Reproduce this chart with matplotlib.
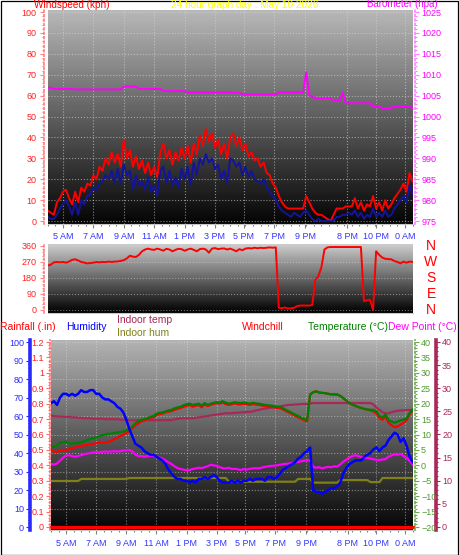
#!/usr/bin/env python3

import numpy as np
import matplotlib
matplotlib.use('Agg')
from matplotlib import pyplot as plt
from matplotlib.ticker import MultipleLocator
from matplotlib.transforms import blended_transform_factory
from matplotlib.patches import Rectangle

matplotlib.rcParams['font.family'] = ['Liberation Sans', 'DejaVu Sans']

W, H = 459, 555

# 12 minute samples over the 24 hour window
hours = np.arange(121) * 0.2
tick_hours = [1, 3, 5, 7, 9, 11, 12.9, 14.9, 16.95, 19.7, 21.6, 23.5]
tick_labels = ['5 AM', '7 AM', '9 AM', '11 AM', '1 PM', '3 PM',
               '5 PM', '7 PM', '9 PM', '8 PM', '10 PM', '0 AM']

wind_gust = [5, 4, 3, 9, 11, 14, 15, 11, 8, 14,
             9, 16, 14, 18, 17, 22, 20, 26, 24, 30,
             27, 33, 28, 32, 26, 39, 30, 34, 26, 31,
             25, 29, 23, 28, 22, 26, 21, 33, 37, 30,
             34, 27, 33, 29, 35, 30, 36, 28, 37, 32,
             41, 36, 44, 38, 42, 35, 39, 32, 37, 30,
             40, 42, 36, 40, 34, 37, 31, 33, 29, 30,
             26, 28, 23, 22, 18, 16, 12, 9, 7, 6,
             6, 6, 6, 6, 6, 12, 9, 6, 4, 3,
             3, 2, 1, 0, 3, 6, 6, 6, 7, 7,
             7, 11, 6, 9, 5, 8, 7, 12, 6, 9,
             5, 10, 6, 8, 11, 13, 15, 18, 14, 23,
             19]

wind_avg = [2, 1, 1, 3, 6, 8, 10, 7, 3, 9,
            3, 10, 8, 12, 13, 16, 15, 18, 19, 22,
            20, 24, 18, 25, 18, 27, 22, 24, 15, 22,
            17, 19, 15, 21, 14, 17, 12, 24, 26, 18,
            24, 17, 21, 16, 25, 20, 26, 17, 28, 22,
            30, 27, 32, 28, 30, 25, 27, 20, 24, 18,
            30, 29, 26, 28, 22, 26, 21, 24, 20, 19,
            18, 20, 16, 14, 12, 10, 7, 5, 4, 3,
            2, 4, 3, 2, 4, 5, 3, 1, 0, 1,
            0, 0, 0, 0, 0, 2, 2, 3, 3, 4,
            3, 5, 2, 4, 1, 3, 2, 6, 2, 4,
            2, 5, 2, 3, 6, 8, 10, 12, 9, 17,
            13]

barometer = [1007.0, 1006.8, 1006.6, 1006.6, 1006.6, 1006.6, 1006.6, 1006.6, 1006.6, 1006.5,
             1006.5, 1006.5, 1006.5, 1006.5, 1006.5, 1006.5, 1006.5, 1006.5, 1006.5, 1006.5,
             1006.5, 1006.5, 1006.5, 1006.5, 1006.5, 1007.2, 1007.2, 1007.2, 1007.2, 1007.2,
             1006.6, 1006.6, 1006.6, 1006.6, 1006.6, 1006.6, 1006.6, 1006.6, 1006.1, 1006.1,
             1006.1, 1006.1, 1006.1, 1006.1, 1006.1, 1006.1, 1005.8, 1005.8, 1005.8, 1005.8,
             1005.8, 1005.8, 1005.8, 1005.8, 1005.8, 1005.8, 1005.8, 1005.8, 1005.8, 1005.8,
             1005.8, 1005.7, 1005.7, 1005.7, 1005.3, 1005.3, 1005.3, 1005.3, 1005.3, 1005.3,
             1005.3, 1005.3, 1005.3, 1005.3, 1005.3, 1005.3, 1005.8, 1005.8, 1005.8, 1005.8,
             1005.8, 1005.8, 1005.8, 1005.8, 1005.8, 1010.6, 1005.2, 1004.8, 1004.5, 1004.3,
             1004.3, 1004.3, 1004.3, 1004.3, 1003.9, 1003.9, 1003.9, 1005.8, 1003.2, 1003.2,
             1003.2, 1003.2, 1003.2, 1003.2, 1003.2, 1003.2, 1003.2, 1002.5, 1002.5, 1002.5,
             1002.0, 1002.0, 1002.0, 1002.0, 1002.5, 1002.5, 1002.5, 1002.5, 1002.5, 1002.5,
             1002.0]

wind_dir = [250, 255, 268, 270, 268, 270, 266, 272, 282, 285,
            278, 270, 266, 262, 264, 266, 270, 268, 270, 269,
            272, 270, 272, 273, 276, 280, 290, 305, 300, 298,
            310, 330, 340, 345, 340, 338, 345, 340, 333, 344,
            340, 330, 338, 344, 342, 333, 340, 345, 338, 330,
            342, 345, 340, 322, 345, 348, 342, 345, 346, 340,
            345, 338, 330, 342, 336, 345, 348, 346, 350, 347,
            350, 348, 350, 352, 350, 352, 12, 10, 14, 8,
            10, 12, 22, 25, 25, 25, 25, 28, 170, 190,
            240, 340, 352, 354, 354, 354, 354, 354, 354, 354,
            354, 354, 354, 354, 50, 55, 58, 0, 330, 310,
            295, 288, 286, 285, 275, 270, 262, 272, 266, 272,
            270]

humidity = [67, 68, 66, 70, 72, 72, 71, 72, 71, 72,
            74, 73, 73, 74, 74, 72, 72, 70, 69, 69,
            68, 67, 65, 64, 62, 58, 53, 49, 45, 44,
            43, 41, 40, 39, 39, 38, 37, 36, 34, 31,
            29, 27, 26, 26, 25, 25, 24, 25, 24, 26,
            26, 27, 26, 27, 28, 27, 25, 24, 24, 24,
            25, 24, 25, 24, 25, 25, 26, 25, 26, 26,
            26, 25, 27, 27, 26, 27, 29, 31, 32, 33,
            34, 35, 37, 38, 40, 41, 43, 20, 19, 19,
            18, 19, 20, 21, 21, 22, 24, 29, 32, 34,
            35, 36, 36, 36, 38, 39, 40, 42, 43, 41,
            43, 44, 47, 49, 51, 50, 46, 48, 44, 38,
            35]

temperature = [6.0, 6.0, 6.5, 7.3, 7.5, 7.6, 7.2, 7.0, 7.3, 7.2,
               7.5, 7.8, 8.2, 8.5, 8.8, 9.0, 9.3, 9.8, 10.0, 10.2,
               10.3, 10.5, 10.6, 10.8, 11.0, 11.3, 11.8, 12.5, 13.7, 14.3,
               14.8, 15.0, 15.3, 15.7, 16.0, 16.8, 17.0, 17.2, 17.5, 17.8,
               18.0, 18.5, 18.8, 19.0, 19.5, 19.8, 20.0, 19.6, 19.8, 20.0,
               19.4, 20.2, 19.6, 20.0, 20.3, 20.5, 20.4, 20.8, 20.3, 20.0,
               20.2, 20.5, 20.3, 20.2, 20.4, 20.2, 20.0, 20.3, 20.1, 20.0,
               19.8, 19.6, 19.5, 19.4, 19.2, 19.0, 19.0, 18.5, 18.0, 17.5,
               17.0, 16.5, 16.0, 15.5, 15.0, 14.7, 23.0, 23.7, 24.0, 23.6,
               23.5, 23.4, 23.2, 23.0, 23.0, 23.0, 22.5, 21.8, 21.0, 20.2,
               19.7, 19.3, 18.9, 18.6, 18.3, 18.1, 18.0, 18.0, 17.5, 16.0,
               15.5, 16.5, 14.7, 14.2, 13.8, 14.2, 14.6, 14.8, 15.3, 17.0,
               18.0]

windchill = [5.0, 4.5, 4.3, 5.0, 4.8, 5.0, 5.2, 5.6, 5.8, 6.0,
             6.3, 6.5, 6.6, 6.8, 7.0, 7.2, 7.3, 7.3, 7.4, 7.6,
             8.0, 8.5, 9.0, 9.5, 10.0, 10.5, 11.2, 12.0, 13.0, 13.6,
             14.2, 14.6, 15.0, 15.3, 15.6, 16.3, 16.6, 16.8, 17.2, 17.4,
             17.6, 18.0, 18.3, 18.6, 19.0, 19.3, 19.6, 19.0, 19.3, 19.6,
             18.8, 19.8, 19.2, 19.6, 19.9, 20.2, 20.0, 20.4, 19.8, 19.6,
             19.8, 20.1, 19.8, 19.8, 20.0, 19.8, 19.6, 19.9, 19.7, 19.6,
             19.4, 19.2, 19.1, 19.0, 18.8, 18.6, 18.6, 18.1, 17.6, 17.1,
             16.6, 16.1, 15.6, 15.1, 14.6, 14.3, 23.0, 23.7, 24.0, 23.6,
             23.5, 23.4, 23.2, 23.0, 23.0, 23.0, 22.5, 21.8, 21.0, 20.2,
             19.7, 19.3, 18.9, 18.6, 18.3, 18.1, 17.8, 17.5, 16.8, 15.3,
             14.8, 15.8, 13.8, 13.0, 12.4, 12.6, 13.2, 13.8, 14.6, 16.6,
             17.8]

dew_point = [0.5, 0.2, 0.6, 1.5, 2.5, 3.2, 3.3, 3.0, 2.8, 3.0,
             3.3, 3.6, 3.8, 4.0, 4.2, 4.3, 4.2, 4.4, 4.5, 4.4,
             4.5, 4.6, 4.5, 4.6, 4.8, 4.8, 5.0, 4.5, 3.5, 3.0,
             3.0, 2.8, 3.0, 3.1, 3.0, 2.8, 2.5, 2.2, 1.6, 1.0,
             0.4, -0.3, -0.9, -1.2, -1.4, -1.6, -1.5, -1.2, -1.0, -0.8,
             -0.9, -0.6, -0.3, 0.2, 0.0, -0.2, -0.6, -0.9, -1.0, -0.8,
             -1.2, -1.1, -1.3, -1.5, -1.2, -1.4, -1.1, -1.0, -0.9, -1.0,
             -0.7, -0.5, -0.3, -0.2, -0.1, 0.0, 0.2, 0.4, 0.5, 0.6,
             0.8, 0.9, 1.1, 1.3, 1.5, 1.7, 1.6, -0.5, -0.8, -0.6,
             -1.0, -0.7, -0.5, -0.6, -0.3, -0.4, 0.3, 1.2, 1.8, 2.5,
             3.0, 3.3, 3.0, 2.7, 2.5, 2.4, 2.2, 2.0, 1.8, 1.7,
             1.9, 2.0, 2.8, 3.2, 3.6, 3.4, 3.7, 3.0, 2.4, 1.5,
             0.3]

indoor_temp = [24.0, 24.0, 23.9, 23.9, 23.8, 23.8, 23.8, 23.7, 23.7, 23.6,
               23.6, 23.5, 23.5, 23.5, 23.4, 23.4, 23.4, 23.4, 23.3, 23.3,
               23.3, 23.3, 23.3, 23.2, 23.2, 23.2, 23.1, 23.1, 23.1, 23.1,
               23.1, 23.1, 23.1, 23.1, 23.1, 23.1, 23.1, 23.1, 23.1, 23.1,
               23.1, 23.3, 23.4, 23.5, 23.5, 23.5, 23.5, 23.5, 23.6, 23.7,
               23.8, 23.9, 24.0, 24.1, 24.2, 24.3, 24.4, 24.5, 24.6, 24.6,
               24.6, 24.7, 24.7, 24.8, 24.8, 24.9, 24.9, 25.0, 25.2, 25.3,
               25.5, 25.6, 25.7, 25.8, 25.9, 26.0, 26.0, 26.2, 26.3, 26.4,
               26.4, 26.5, 26.5, 26.6, 26.6, 26.6, 26.7, 26.8, 26.8, 26.8,
               26.8, 26.8, 26.8, 26.8, 26.8, 26.8, 26.8, 26.8, 26.8, 26.8,
               26.8, 26.8, 26.8, 26.8, 26.8, 26.8, 26.8, 26.5, 25.8, 25.3,
               24.8, 24.6, 24.6, 24.8, 25.0, 25.1, 25.2, 25.2, 25.3, 25.3,
               25.3]

indoor_hum = [24.9, 24.9, 24.9, 24.9, 24.9, 24.9, 24.9, 24.9, 24.9, 24.9,
              26.0, 26.0, 26.0, 26.0, 26.0, 26.0, 26.0, 26.0, 26.0, 26.0,
              26.0, 26.0, 26.0, 26.0, 26.0, 26.0, 26.5, 26.5, 26.5, 26.5,
              26.5, 26.5, 26.5, 26.5, 26.5, 26.5, 26.5, 26.5, 26.5, 26.5,
              26.5, 26.5, 26.5, 26.5, 26.5, 26.5, 26.5, 26.5, 26.5, 26.5,
              26.5, 26.5, 26.5, 26.5, 26.5, 26.5, 26.5, 26.5, 26.5, 24.5,
              24.5, 24.5, 24.5, 24.5, 24.5, 24.5, 24.5, 24.5, 24.5, 24.5,
              24.5, 24.5, 24.5, 24.5, 24.5, 24.5, 24.5, 24.5, 24.5, 24.5,
              24.5, 24.5, 26.0, 26.0, 26.0, 26.0, 26.0, 24.0, 24.0, 24.0,
              24.0, 24.0, 24.0, 24.0, 24.0, 24.0, 25.4, 25.4, 25.4, 25.4,
              25.4, 25.4, 25.4, 25.4, 25.4, 25.4, 24.3, 24.3, 24.3, 24.3,
              26.5, 26.5, 26.5, 26.5, 26.5, 26.5, 26.5, 26.5, 26.5, 26.5,
              26.5]

rainfall = [0.0] * len(hours)

compass_deg = [360, 270, 180, 90, 0]
compass_lbl = ['N', 'W', 'S', 'E', 'N']


def px_box(x0, y0, x1, y1):
    return [x0 / W, 1 - y1 / H, (x1 - x0) / W, (y1 - y0) / H]


def pt(px):
    return px * 0.72


def backdrop(ax, top, bottom):
    shade = np.linspace(bottom, top, 100).reshape(-1, 1)
    ax.imshow(shade, cmap='gray', vmin=0, vmax=1, origin='lower', aspect='auto',
              extent=[0, 1, 0, 1], transform=ax.transAxes, zorder=0,
              interpolation='bilinear')


def keep_spine(ax, side):
    for name, sp in ax.spines.items():
        sp.set_visible(name == side)


def style_y(ax, side, lbl_color, tick_color, major, minor, offset, ls, lw, pad):
    keep_spine(ax, side)
    sp = ax.spines[side]
    sp.set_position(('outward', pt(offset)))
    sp.set_color(tick_color)
    sp.set_linestyle(ls)
    sp.set_linewidth(lw)
    ax.yaxis.set_major_locator(MultipleLocator(major))
    ax.yaxis.set_minor_locator(MultipleLocator(minor))
    ax.tick_params(axis='y', which='both', colors=tick_color, labelcolor=lbl_color,
                   labelsize=6.5, direction='out', pad=pt(pad), width=0.8)
    ax.tick_params(axis='y', which='major', length=pt(4))
    ax.tick_params(axis='y', which='minor', length=pt(2))


def style_x(ax, pad):
    ax.set_xticks(tick_hours)
    ax.set_xticklabels(tick_labels)
    ax.xaxis.set_minor_locator(MultipleLocator(0.5))
    ax.tick_params(axis='x', which='both', colors='#808080', labelcolor='#3535ff',
                   labelsize=6.5, direction='out', pad=pt(pad), width=0.8)
    ax.tick_params(axis='x', which='major', length=pt(4))
    ax.tick_params(axis='x', which='minor', length=pt(2))


fig = plt.figure(figsize=(W / 100, H / 100), dpi=100)
fig.patch.set_facecolor('white')

# ---- wind speed / barometer ----
ax1 = fig.add_axes(px_box(47.8, 10, 412.6, 224))
backdrop(ax1, 0.72, 0.02)
ax1.plot(hours, wind_gust, color='#ff0000', lw=1.4, zorder=3)
ax1.plot(hours, wind_avg, color='#14149a', lw=1.4, zorder=4)
ax1.set_xlim(0, 24)
ax1.set_ylim(-1.4, 101)
style_y(ax1, 'left', '#ff2020', '#ff8080', 10, 2, 4, ':', 1.2, 3)
ax1.spines['bottom'].set_visible(True)
ax1.spines['bottom'].set_color('#c8c8c8')
style_x(ax1, 4)
ax1.grid(color='#d8d8d8', ls=':', lw=0.8, alpha=0.6)

ax1b = ax1.twinx()
ax1b.plot(hours, barometer, color='#ff00ff', lw=1.4, zorder=5)
ax1b.set_ylim(974.3, 1025.5)
style_y(ax1b, 'right', '#ff00ff', '#ff80ff', 5, 1, 2, ':', 1.2, 3)

# ---- wind direction ----
ax2 = fig.add_axes(px_box(47.8, 244, 412.6, 313))
backdrop(ax2, 0.80, 0.0)
ax2.plot(hours, wind_dir, color='#ff0000', lw=1.4, zorder=3)
ax2.set_xlim(0, 24)
ax2.set_ylim(-17, 371)
style_y(ax2, 'left', '#ff2020', '#ff8080', 90, 18, 4, ':', 1.2, 3)
ax2.spines['bottom'].set_visible(True)
ax2.spines['bottom'].set_color('#c8c8c8')
ax2.set_xticks([])
ax2.grid(axis='y', color='#d8d8d8', ls=':', lw=0.8, alpha=0.5)
trans = blended_transform_factory(ax2.transAxes, ax2.transData)
for deg, lbl in zip(compass_deg, compass_lbl):
    ax2.text(1.0 + (431 - 412.6) / 364.8, deg, lbl, transform=trans, color='#ff0000',
             fontsize=10, ha='center', va='center', clip_on=False)

# ---- humidity / temperatures ----
ax3 = fig.add_axes(px_box(51, 340, 412.6, 530))
backdrop(ax3, 0.70, 0.02)
ax3.plot(hours, indoor_hum, color='#808018', lw=1.6, zorder=3)
ax3.set_xlim(0, 24)
ax3.set_ylim(-1.6, 101.1)
style_y(ax3, 'left', '#2a2aff', '#2a2aff', 10, 2, 21, '-', 2.6, 2)
ax3.spines['bottom'].set_visible(True)
ax3.spines['bottom'].set_color('#c8c8c8')
style_x(ax3, 5)
ax3.grid(color='#d8d8d8', ls=':', lw=0.8, alpha=0.55)

ax3i = ax3.twinx()
ax3i.plot(hours, indoor_temp, color='#a82858', lw=1.6)
ax3i.set_ylim(-0.65, 40.43)
style_y(ax3i, 'right', '#a82858', '#a82858', 5, 1, 23.5, '-', 2.6, 2)

ax3r = ax3.twinx()
ax3r.yaxis.tick_left()
ax3r.plot(hours, rainfall, color='#ff0000', lw=2.4, clip_on=False)
ax3r.set_ylim(-0.0195, 1.213)
style_y(ax3r, 'left', '#ff2020', '#ff7070', 0.1, 0.02, 1, ':', 1.2, 2)
ax3r.set_yticks([0, 0.1, 0.2, 0.3, 0.4, 0.5, 0.6, 0.7, 0.8, 0.9, 1, 1.1, 1.2])
ax3r.set_yticklabels(['0', '0.1', '0.2', '0.3', '0.4', '0.5', '0.6', '0.7', '0.8',
                      '0.9', '1', '1.1', '1.2'])

ax3t = ax3.twinx()
ax3t.plot(hours, dew_point, color='#ff00ff', lw=1.6)
ax3t.plot(hours, windchill, color='#ff0000', lw=1.6)
ax3t.plot(hours, temperature, color='#008000', lw=1.6)
ax3t.set_ylim(-20.97, 40.65)
style_y(ax3t, 'right', '#4e9a2e', '#6aaa4a', 5, 1, 2.4, ':', 1.2, 2)

ax3h = ax3.twinx()
ax3h.plot(hours, humidity, color='#0000ff', lw=1.8)
ax3h.set_ylim(-1.6, 101.1)
keep_spine(ax3h, None)
ax3h.yaxis.set_visible(False)


# ---- header texts ----
def label(x, y, s, color, size=7.5):
    fig.text(x / W, 1 - y / H, s, color=color, fontsize=size, ha='left', va='center')


label(34, 4.5, 'Windspeed (kph)', '#ff0000', 7.2)
label(171, 4.5, '24 hour graph day : May 10 2026', '#ffff00', 7.2)
label(367, 4.0, 'Barometer (hpa)', '#ff00ff', 7.0)
label(0, 327, 'Rainfall (.in)', '#ff0000')
label(66, 327, 'Humidity', '#0000ff')
label(117, 320, 'Indoor temp', '#a82858')
label(117, 333, 'Indoor hum', '#808018')
label(242, 327, 'Windchill', '#ff0000')
label(308, 327, 'Temperature (\u00b0C)', '#008000')
label(388, 327, 'Dew Point (\u00b0C)', '#ff00ff')

fig.add_artist(Rectangle((0.5 / W, 0.5 / H), 1 - 1.5 / W, 1 - 1.5 / H,
                         transform=fig.transFigure, fill=False, ec='black', lw=0.9))

plt.savefig('out.png', dpi=100)
